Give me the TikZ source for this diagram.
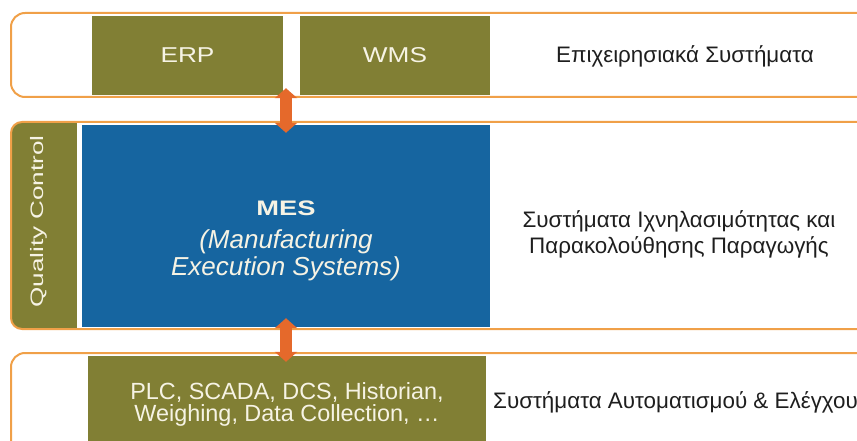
\documentclass[tikz,border=0pt]{standalone}
\usepackage{fontspec}
\setmainfont{Liberation Sans}
\newfontfamily\wideSans{Liberation Sans}[FakeStretch=1.22]
\newfontfamily\mesSans{Liberation Sans}[FakeStretch=1.3]
\newfontfamily\qcSans{Liberation Sans}[FakeStretch=1.45]
\usetikzlibrary{arrows.meta}
\usetikzlibrary{calc}

\begin{document}
\begin{tikzpicture}[x=1pt, y=-1pt]

\definecolor{bandorange}{RGB}{240,160,72}
\definecolor{arroworange}{RGB}{229,105,43}
\definecolor{sysolive}{RGB}{129,127,52}
\definecolor{mesblue}{RGB}{22,101,160}
\definecolor{lighttext}{RGB}{246,243,228}
\definecolor{darktext}{RGB}{30,30,30}

\tikzset{band/.style={draw=bandorange, line width=2pt, rounded corners=14pt}}
\tikzset{sysbox/.style={fill=sysolive, text=lighttext, inner sep=0pt, align=center}}
\tikzset{layertext/.style={text=darktext, align=center, inner sep=0pt, font=\fontsize{22.4}{26}\selectfont}}
\tikzset{linkarrow/.style={draw=arroworange, line width=12pt, {Triangle[width=22pt,length=10pt]}-{Triangle[width=22pt,length=10pt]}}}

\useasboundingbox (0,0) rectangle (857,441);
\clip (0,0) rectangle (857,441);

% business systems
\draw[band] (11,13) rectangle (890,97);

\node[sysbox, minimum width=191pt, minimum height=79pt, font=\wideSans\fontsize{21.5}{24}\selectfont] (erp) at (187.5,55.5) {ERP};
\node[sysbox, minimum width=190pt, minimum height=79pt, font=\wideSans\fontsize{21.5}{24}\selectfont] (wms) at (395,55.5) {WMS};

\node[layertext] (biz) at (685,56) {Επιχειρησιακά Συστήματα};

% MES layer
\begin{scope}
\clip[rounded corners=11pt] (11,122) rectangle (890,329);
\node[sysbox, minimum width=66pt, minimum height=207pt] (qc) at (44,225.5) {};
\end{scope}
\draw[band, rounded corners=11pt] (11,122) rectangle (890,329);

\node[rotate=90, anchor=base, text=lighttext, inner sep=0pt, font=\qcSans\fontsize{18}{20}\selectfont] (qctext) at (43,221.5) {Quality Control};

\node[fill=mesblue, minimum width=408pt, minimum height=202pt, inner sep=0pt] (mes) at (286,226) {};
\node[text=lighttext, align=center, inner sep=0pt, font=\fontsize{26}{27}\selectfont] (mestext) at ($(mes.center)+(0,15)$)
  {{\mesSans\bfseries\fontsize{21}{24}\selectfont MES}\\[6pt]\itshape (Manufacturing\\\itshape Execution Systems)};

\node[layertext] (track) at (679,234) {Συστήματα Ιχνηλασιμότητας και\\Παρακολούθησης Παραγωγής};

% automation layer
\draw[band] (11,353) rectangle (890,480);

\node[sysbox, minimum width=398pt, minimum height=96pt, font=\fontsize{23.4}{22}\selectfont] (plc) at (287,404)
  {PLC, SCADA, DCS, Historian,\\Weighing, Data Collection, \dots};

\node[layertext, anchor=west] (auto) at (493,402) {Συστήματα Αυτοματισμού \& Ελέγχου};

% links
\draw[linkarrow] ($(mes.north |- erp.south)+(0,-7)$) -- ($(mes.north)+(0,8)$);
\draw[linkarrow] ($(mes.south)+(0,-9)$) -- ($(mes.south |- plc.north)+(0,6)$);

\end{tikzpicture}
\end{document}
